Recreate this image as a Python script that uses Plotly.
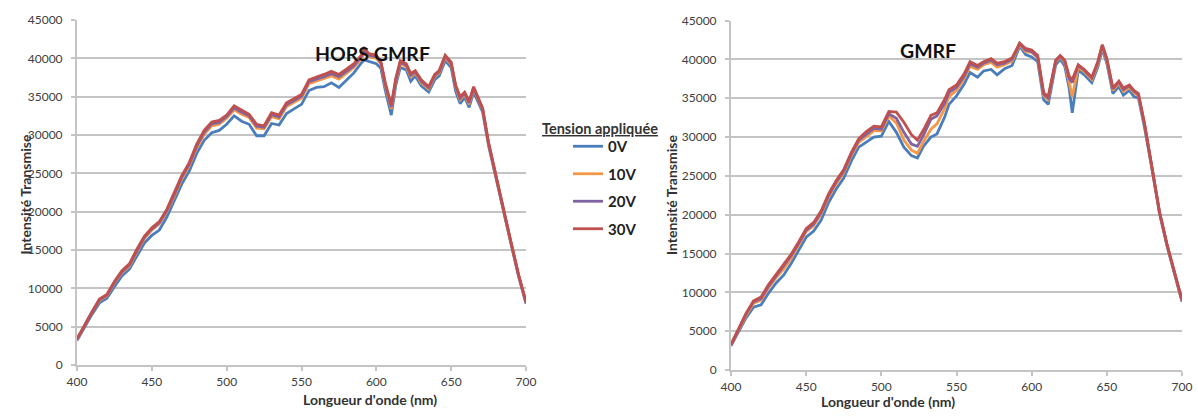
import plotly.graph_objects as go

# ---------------- data ----------------
wl_left = [400, 405, 410, 415, 420, 425, 430, 435, 440, 445, 450, 455, 460, 465, 470, 475, 480, 485, 490, 495,
           500, 505, 510, 515, 520, 525, 530, 535, 540, 545, 550, 555, 560, 565, 570, 575, 580, 585, 590,
           592, 595, 600, 603, 606, 610, 613, 616, 620, 623, 626, 630, 635, 639, 642, 646, 650, 653, 656, 659,
           662, 665, 668, 671, 675, 680, 685, 690, 695, 700]

left_0v = [3200, 4900, 6600, 8100, 8700, 10200, 11600, 12500, 14200, 15900, 16900, 17600, 19300, 21400, 23600, 25300,
           27600, 29300, 30300, 30600, 31400, 32500, 31800, 31400, 29900, 29900, 31500, 31300, 32800, 33400, 34000,
           35800, 36200, 36300, 36800, 36200, 37100, 38100, 39400,
           39800, 39600, 39300, 38700, 35800, 32600, 36500, 38800, 38500, 37000, 37700, 36400, 35600, 37200, 37700,
           39700, 38800, 35700, 34100, 34900, 33600, 35600, 34300, 33000, 28600, 24200, 20000, 15800, 11600, 8000]

left_10v = [3300, 5100, 6900, 8400, 9000, 10700, 12000, 12900, 14800, 16500, 17600, 18400, 20000, 22000, 24300, 26000,
            28300, 30100, 31200, 31400, 32200, 33300, 32700, 32300, 30900, 30800, 32400, 32100, 33700, 34200, 34800,
            36700, 37000, 37300, 37700, 37300, 38000, 38800, 40000,
            40700, 40200, 40000, 39300, 36400, 33400, 37000, 39300, 38900, 37600, 38100, 36800, 36000, 37600, 38100,
            40100, 39200, 36200, 34600, 35300, 34000, 36000, 34700, 33300, 28800, 24400, 20200, 15900, 11700, 8100]

left_20v = [3350, 5150, 6950, 8500, 9100, 10800, 12150, 13050, 14950, 16650, 17750, 18550, 20150, 22200, 24500, 26200,
            28550, 30350, 31450, 31650, 32400, 33550, 32950, 32500, 31150, 31000, 32650, 32350, 33950, 34450, 35050,
            36950, 37250, 37600, 38000, 37600, 38300, 39050, 40200,
            41000, 40400, 40200, 39450, 36600, 33650, 37200, 39500, 39100, 37800, 38250, 37000, 36150, 37750, 38250,
            40250, 39350, 36350, 34800, 35450, 34200, 36150, 34850, 33400, 28900, 24450, 20250, 15950, 11750, 8150]

left_30v = [3400, 5200, 7000, 8600, 9200, 10900, 12300, 13200, 15100, 16800, 17900, 18700, 20300, 22400, 24700, 26400,
            28800, 30600, 31700, 31900, 32600, 33800, 33200, 32700, 31400, 31200, 32900, 32600, 34200, 34700, 35300,
            37200, 37500, 37900, 38300, 37900, 38600, 39300, 40400,
            41300, 40600, 40400, 39600, 36800, 33900, 37400, 39700, 39300, 38000, 38400, 37200, 36300, 37900, 38400,
            40400, 39500, 36500, 35000, 35600, 34400, 36300, 35000, 33500, 29000, 24500, 20300, 16000, 11800, 8200]

wl_right = [400, 405, 410, 415, 420, 425, 430, 435, 440, 445, 450, 455, 460, 465, 470, 475, 480, 485, 490, 495,
            500, 505, 510, 515, 520, 524, 528, 533, 537, 542, 545, 550, 555, 559, 564, 568, 573, 577, 582, 587,
            592, 596, 600, 604, 608, 611, 616, 619, 622, 625, 627, 631, 635, 640, 644, 647, 650, 654, 658, 661,
            665, 668, 671, 675, 680, 685, 690, 695, 700]

right_0v = [3100, 5000, 6700, 8100, 8400, 9900, 11200, 12200, 13700, 15400, 17100, 17900, 19300, 21600, 23300, 24700,
            26900, 28700, 29300, 30000, 30100, 32000, 30600, 28700, 27600, 27300, 28800, 30000, 30400, 32500, 34200,
            35300, 36800, 38300, 37700, 38500, 38700, 38000, 38800, 39200,
            41700, 40600, 40300, 39700, 34800, 34200, 39300, 40000, 39100, 36200, 33100, 38600, 38000, 37000, 39000,
            41300, 39500, 35600, 36500, 35400, 36000, 35200, 35000, 31300, 25900, 20200, 16000, 12300, 8800]

right_10v = [3200, 5200, 7000, 8600, 9000, 10600, 11900, 13000, 14400, 16100, 17800, 18600, 20100, 22300, 24000, 25400,
             27600, 29300, 30100, 30800, 30800, 32700, 31800, 29600, 28300, 27900, 29400, 31000, 31700, 33600, 35200,
             36000, 37500, 39100, 38700, 39300, 39600, 39000, 39300, 39800,
             41900, 41000, 40900, 40200, 35300, 34800, 39700, 40300, 39600, 37000, 35200, 39000, 38400, 37400, 39400,
             41600, 39800, 36000, 36900, 35900, 36400, 35700, 35300, 31600, 26100, 20300, 16100, 12400, 8900]

right_20v = [3250, 5300, 7200, 8800, 9200, 10800, 12100, 13300, 14700, 16300, 18000, 18800, 20300, 22500, 24200, 25600,
             27800, 29600, 30400, 31100, 31000, 33000, 32400, 30600, 29100, 28800, 30200, 32300, 32700, 34300, 35700,
             36400, 37800, 39400, 39000, 39500, 39900, 39300, 39500, 40000,
             42000, 41200, 41000, 40300, 35500, 35000, 39800, 40400, 39800, 37500, 37000, 39200, 38600, 37600, 39600,
             41800, 40000, 36200, 37100, 36100, 36600, 35900, 35500, 31700, 26150, 20350, 16150, 12450, 8950]

right_30v = [3300, 5400, 7300, 8900, 9400, 11000, 12300, 13500, 14900, 16500, 18200, 19000, 20500, 22700, 24400, 25800,
             28000, 29800, 30700, 31400, 31300, 33300, 33200, 31900, 30300, 29600, 30900, 32800, 33100, 34800, 36100,
             36700, 38100, 39700, 39200, 39700, 40100, 39500, 39700, 40200,
             42100, 41400, 41200, 40500, 35700, 35200, 39900, 40500, 39900, 37800, 37400, 39300, 38700, 37700, 39700,
             41900, 40100, 36300, 37200, 36300, 36700, 36000, 35600, 31800, 26200, 20400, 16200, 12500, 9000]

series_names = ["0V", "10V", "20V", "30V"]
series_colors = ["#4a7ebb", "#f79646", "#8064a2", "#c0504d"]
panel_titles = ["HORS GMRF", "GMRF"]
x_title = "Longueur d'onde (nm)"
y_title = "Intensité Transmise"
legend_title = "Tension appliquée"
x_ticks = [400, 450, 500, 550, 600, 650, 700]
x_ticklabels = ["400", "450", "500", "550", "600", "650", "700"]
y_ticks = [0, 5000, 10000, 15000, 20000, 25000, 30000, 35000, 40000, 45000]
y_ticklabels = ["0", "5000", "10000", "15000", "20000", "25000", "30000", "35000", "40000", "45000"]

left_series = [left_0v, left_10v, left_20v, left_30v]
right_series = [right_0v, right_10v, right_20v, right_30v]
for s in left_series:
    assert len(s) == len(wl_left), len(s)
for s in right_series:
    assert len(s) == len(wl_right), len(s)

# ---------------- figure ----------------
W, H = 1198, 420
FONT = "Lato, 'Open Sans', sans-serif"
fig = go.Figure()

for i, (name, col) in enumerate(zip(series_names, series_colors)):
    fig.add_trace(go.Scatter(x=wl_left, y=left_series[i], mode="lines", name=name,
                             line=dict(color=col, width=2.8), xaxis="x", yaxis="y",
                             legendgroup=name, showlegend=True))
for i, (name, col) in enumerate(zip(series_names, series_colors)):
    fig.add_trace(go.Scatter(x=wl_right, y=right_series[i], mode="lines", name=name,
                             line=dict(color=col, width=2.8), xaxis="x2", yaxis="y2",
                             legendgroup=name, showlegend=False))


def px_x(p):
    return p / W


def px_y(p):
    return 1 - p / H


grid_col = "#c4c4c4"
tickfont = dict(family=FONT, size=12, color="#404040")
xcommon = dict(range=[400, 700], tickvals=x_ticks, ticktext=x_ticklabels, showgrid=False, showline=True,
               linecolor=grid_col, linewidth=2, ticks="outside", ticklen=4, tickcolor=grid_col, tickwidth=1.5,
               tickfont=tickfont, zeroline=False, fixedrange=True, automargin=False, ticklabelstandoff=1)
ycommon = dict(range=[0, 45000], tickvals=y_ticks, ticktext=y_ticklabels, showgrid=True, gridcolor=grid_col,
               gridwidth=2, showline=True, linecolor=grid_col, linewidth=2, ticks="outside", ticklen=4,
               tickcolor=grid_col, tickwidth=1.5, tickfont=tickfont, zeroline=False, fixedrange=True,
               automargin=False, ticklabelstandoff=6)

fig.update_layout(
    width=W, height=H,
    margin=dict(l=0, r=0, t=0, b=0, autoexpand=False),
    paper_bgcolor="white", plot_bgcolor="white",
    xaxis=dict(domain=[px_x(77), px_x(526)], anchor="y", **xcommon),
    yaxis=dict(domain=[px_y(365), px_y(20)], anchor="x", **ycommon),
    xaxis2=dict(domain=[px_x(731), px_x(1182)], anchor="y2", **xcommon),
    yaxis2=dict(domain=[px_y(370), px_y(20.5)], anchor="x2", **ycommon),
    showlegend=True,
    legend=dict(x=px_x(568), y=px_y(130), xanchor="left", yanchor="top",
                font=dict(family=FONT, size=15, color="#222222", weight="bold"),
                tracegroupgap=5, itemwidth=30, bgcolor="rgba(0,0,0,0)"),
)

annotations = [
    dict(text="<b>" + panel_titles[0] + "</b>", x=px_x(313), y=px_y(40), xref="paper", yref="paper",
         showarrow=False, font=dict(family=FONT, size=19.5, color="#111111")),
    dict(text="<b>" + panel_titles[1] + "</b>", x=px_x(958), y=px_y(37), xref="paper", yref="paper",
         showarrow=False, font=dict(family=FONT, size=19.5, color="#111111")),
    dict(text="<b>" + x_title + "</b>", x=px_x(301), y=px_y(410), xref="paper", yref="paper",
         showarrow=False, font=dict(family=FONT, size=14, color="#333333")),
    dict(text="<b>" + x_title + "</b>", x=px_x(957), y=px_y(412), xref="paper", yref="paper",
         showarrow=False, font=dict(family=FONT, size=14, color="#333333")),
    dict(text="<b>" + y_title + "</b>", x=px_x(14), y=px_y(195), xref="paper", yref="paper",
         showarrow=False, textangle=-90, font=dict(family=FONT, size=14, color="#333333")),
    dict(text="<b>" + y_title + "</b>", x=px_x(671), y=px_y(195), xref="paper", yref="paper",
         showarrow=False, textangle=-90, font=dict(family=FONT, size=14, color="#333333")),
    dict(text="<b><u>" + legend_title + "</u></b>", x=px_x(600), y=px_y(118), xref="paper", yref="paper",
         showarrow=False, font=dict(family=FONT, size=14.5, color="#333333")),
]
fig.update_layout(annotations=annotations)

fig.write_html("out.html", config={"displayModeBar": False},
               post_script="document.body.style.margin='0';document.body.style.padding='0';")
